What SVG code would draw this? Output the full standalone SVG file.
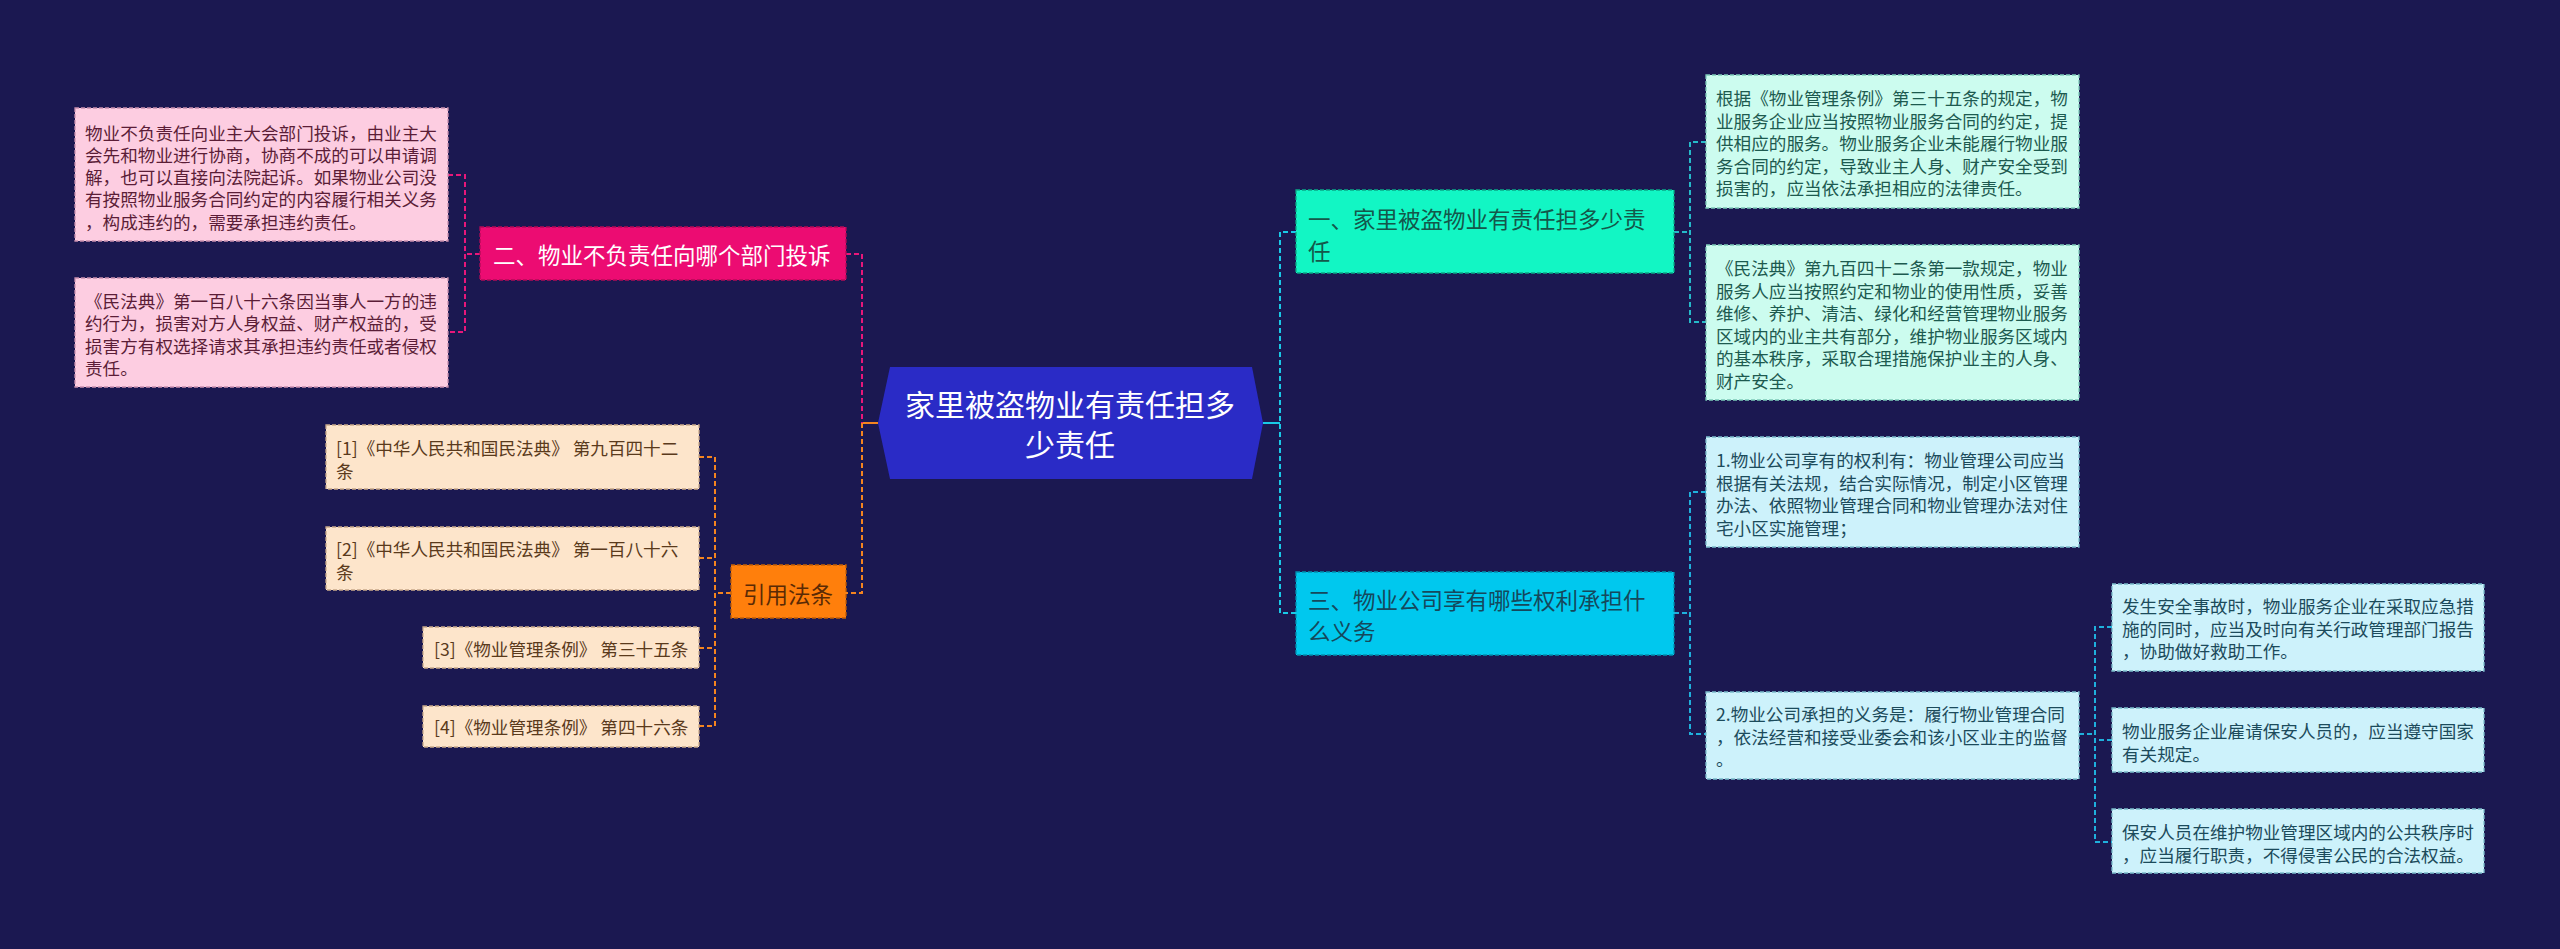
<svg xmlns="http://www.w3.org/2000/svg" width="2560" height="949" viewBox="0 0 2560 949">
<style>
text{font-family:"Noto Sans CJK SC","Noto Sans",sans-serif;dominant-baseline:central}
.t{font-size:17.6px}
.n{font-size:22.5px}
.c{fill:none;stroke-width:2;stroke-dasharray:5 3}
.s{fill:none;stroke-width:2}
.b{stroke-width:1.3;stroke-dasharray:4 2}
.pk{fill:#fdcde1;stroke:#c98fae}
.tn{fill:#fde5cb;stroke:#c9a98a}
.tl{fill:#ccfcef;stroke:#7cc9b8}
.bl{fill:#cdf2fb;stroke:#7bbccc}
</style>
<rect width="2560" height="949" fill="#1b1851"/>
<g id="connectors">
<path class="s" stroke="#f5841f" d="M878,423H862"/>
<path class="c" stroke="#e8177a" d="M846,254H862V423"/>
<path class="c" stroke="#e8177a" d="M480,254H465M448,175H465V332H448"/>
<path class="c" stroke="#f5841f" d="M862,423V593H846"/>
<path class="c" stroke="#f5841f" d="M731,593H715M699,457H715V726H699M699,558H715M699,648H715"/>
<path class="s" stroke="#19c9e6" d="M1263,423H1280"/>
<path class="c" stroke="#19c9e6" d="M1296,232H1280V613H1296"/>
<path class="c" stroke="#25b9c9" d="M1674,232H1690M1706,142H1690V322H1706"/>
<path class="c" stroke="#1fb0dc" d="M1674,613H1690M1706,492H1690V734H1706"/>
<path class="c" stroke="#1fb0dc" d="M2079,734H2095M2112,627H2095V842H2112M2112,740H2095"/>
</g>
<g id="center">
<polygon points="878,423 890,367 1252,367 1263,423 1252,479 890,479" fill="#2a2bc6"/>
<text x="1070" y="403" font-size="30" fill="#ffffff" text-anchor="middle">家里被盗物业有责任担多</text>
<text x="1070" y="443" font-size="30" fill="#ffffff" text-anchor="middle">少责任</text>
</g>
<g id="node-2">
<rect x="480" y="227" width="366" height="53" fill="#ec0c72" stroke="#b30a57" class="b"/>
<text class="n" x="493" y="254" fill="#ffffff">二、物业不负责任向哪个部门投诉</text>
</g>
<g id="node-2-1">
<rect x="75" y="108" width="373" height="133" class="pk b"/>
<text class="t" fill="#5b1d37"><tspan x="85" y="131.5">物业不负责任向业主大会部门投诉，由业主大</tspan><tspan x="85" y="153.8">会先和物业进行协商，协商不成的可以申请调</tspan><tspan x="85" y="176.1">解，也可以直接向法院起诉。如果物业公司没</tspan><tspan x="85" y="198.4">有按照物业服务合同约定的内容履行相关义务</tspan><tspan x="85" y="220.7">，构成违约的，需要承担违约责任。</tspan></text>
</g>
<g id="node-2-2">
<rect x="75" y="278" width="373" height="109" class="pk b"/>
<text class="t" fill="#5b1d37"><tspan x="85" y="299.5">《民法典》第一百八十六条因当事人一方的违</tspan><tspan x="85" y="322">约行为，损害对方人身权益、财产权益的，受</tspan><tspan x="85" y="344.5">损害方有权选择请求其承担违约责任或者侵权</tspan><tspan x="85" y="367">责任。</tspan></text>
</g>
<g id="node-law">
<rect x="731" y="565" width="115" height="53" fill="#ff7f0c" stroke="#c25f06" class="b"/>
<text class="n" x="743" y="593" fill="#5a2a05">引用法条</text>
</g>
<g id="node-law-1">
<rect x="326" y="425" width="373" height="64" class="tn b"/>
<text class="t" fill="#5a3a1c"><tspan x="336" y="447">[1]《中华人民共和国民法典》 第九百四十二</tspan><tspan x="336" y="469.5">条</tspan></text>
</g>
<g id="node-law-2">
<rect x="326" y="527" width="373" height="63" class="tn b"/>
<text class="t" fill="#5a3a1c"><tspan x="336" y="548">[2]《中华人民共和国民法典》 第一百八十六</tspan><tspan x="336" y="570.5">条</tspan></text>
</g>
<g id="node-law-3">
<rect x="423" y="627" width="276" height="41" class="tn b"/>
<text class="t" x="434" y="648" fill="#5a3a1c">[3]《物业管理条例》 第三十五条</text>
</g>
<g id="node-law-4">
<rect x="423" y="706" width="276" height="41" class="tn b"/>
<text class="t" x="434" y="726.5" fill="#5a3a1c">[4]《物业管理条例》 第四十六条</text>
</g>
<g id="node-1">
<rect x="1296" y="190" width="378" height="83" fill="#12f6c4" stroke="#0aa886" class="b"/>
<text class="n" fill="#14574a"><tspan x="1308" y="218">一、家里被盗物业有责任担多少责</tspan><tspan x="1308" y="250">任</tspan></text>
</g>
<g id="node-1-1">
<rect x="1706" y="75" width="373" height="133" class="tl b"/>
<text class="t" fill="#1d5a4f"><tspan x="1716" y="97">根据《物业管理条例》第三十五条的规定，物</tspan><tspan x="1716" y="119.6">业服务企业应当按照物业服务合同的约定，提</tspan><tspan x="1716" y="142.2">供相应的服务。物业服务企业未能履行物业服</tspan><tspan x="1716" y="164.8">务合同的约定，导致业主人身、财产安全受到</tspan><tspan x="1716" y="187.4">损害的，应当依法承担相应的法律责任。</tspan></text>
</g>
<g id="node-1-2">
<rect x="1706" y="245" width="373" height="155" class="tl b"/>
<text class="t" fill="#1d5a4f"><tspan x="1716" y="267">《民法典》第九百四十二条第一款规定，物业</tspan><tspan x="1716" y="289.6">服务人应当按照约定和物业的使用性质，妥善</tspan><tspan x="1716" y="312.2">维修、养护、清洁、绿化和经营管理物业服务</tspan><tspan x="1716" y="334.8">区域内的业主共有部分，维护物业服务区域内</tspan><tspan x="1716" y="357.4">的基本秩序，采取合理措施保护业主的人身、</tspan><tspan x="1716" y="380">财产安全。</tspan></text>
</g>
<g id="node-3">
<rect x="1296" y="572" width="378" height="83" fill="#00c8ee" stroke="#0090b0" class="b"/>
<text class="n" fill="#15485c"><tspan x="1308" y="599">三、物业公司享有哪些权利承担什</tspan><tspan x="1308" y="630">么义务</tspan></text>
</g>
<g id="node-3-1">
<rect x="1706" y="437" width="373" height="110" class="bl b"/>
<text class="t" fill="#1c4b5b"><tspan x="1716" y="459">1.物业公司享有的权利有：物业管理公司应当</tspan><tspan x="1716" y="481.6">根据有关法规，结合实际情况，制定小区管理</tspan><tspan x="1716" y="504.2">办法、依照物业管理合同和物业管理办法对住</tspan><tspan x="1716" y="526.8">宅小区实施管理；</tspan></text>
</g>
<g id="node-3-2">
<rect x="1706" y="692" width="373" height="87" class="bl b"/>
<text class="t" fill="#1c4b5b"><tspan x="1716" y="713">2.物业公司承担的义务是：履行物业管理合同</tspan><tspan x="1716" y="735.6">，依法经营和接受业委会和该小区业主的监督</tspan><tspan x="1716" y="758.2">。</tspan></text>
</g>
<g id="node-3-2-1">
<rect x="2112" y="584" width="372" height="87" class="bl b"/>
<text class="t" fill="#1c4b5b"><tspan x="2122" y="605">发生安全事故时，物业服务企业在采取应急措</tspan><tspan x="2122" y="627.6">施的同时，应当及时向有关行政管理部门报告</tspan><tspan x="2122" y="650.2">，协助做好救助工作。</tspan></text>
</g>
<g id="node-3-2-2">
<rect x="2112" y="708" width="372" height="64" class="bl b"/>
<text class="t" fill="#1c4b5b"><tspan x="2122" y="730">物业服务企业雇请保安人员的，应当遵守国家</tspan><tspan x="2122" y="752.6">有关规定。</tspan></text>
</g>
<g id="node-3-2-3">
<rect x="2112" y="809" width="372" height="64" class="bl b"/>
<text class="t" fill="#1c4b5b"><tspan x="2122" y="831">保安人员在维护物业管理区域内的公共秩序时</tspan><tspan x="2122" y="853.6">，应当履行职责，不得侵害公民的合法权益。</tspan></text>
</g>
</svg>
